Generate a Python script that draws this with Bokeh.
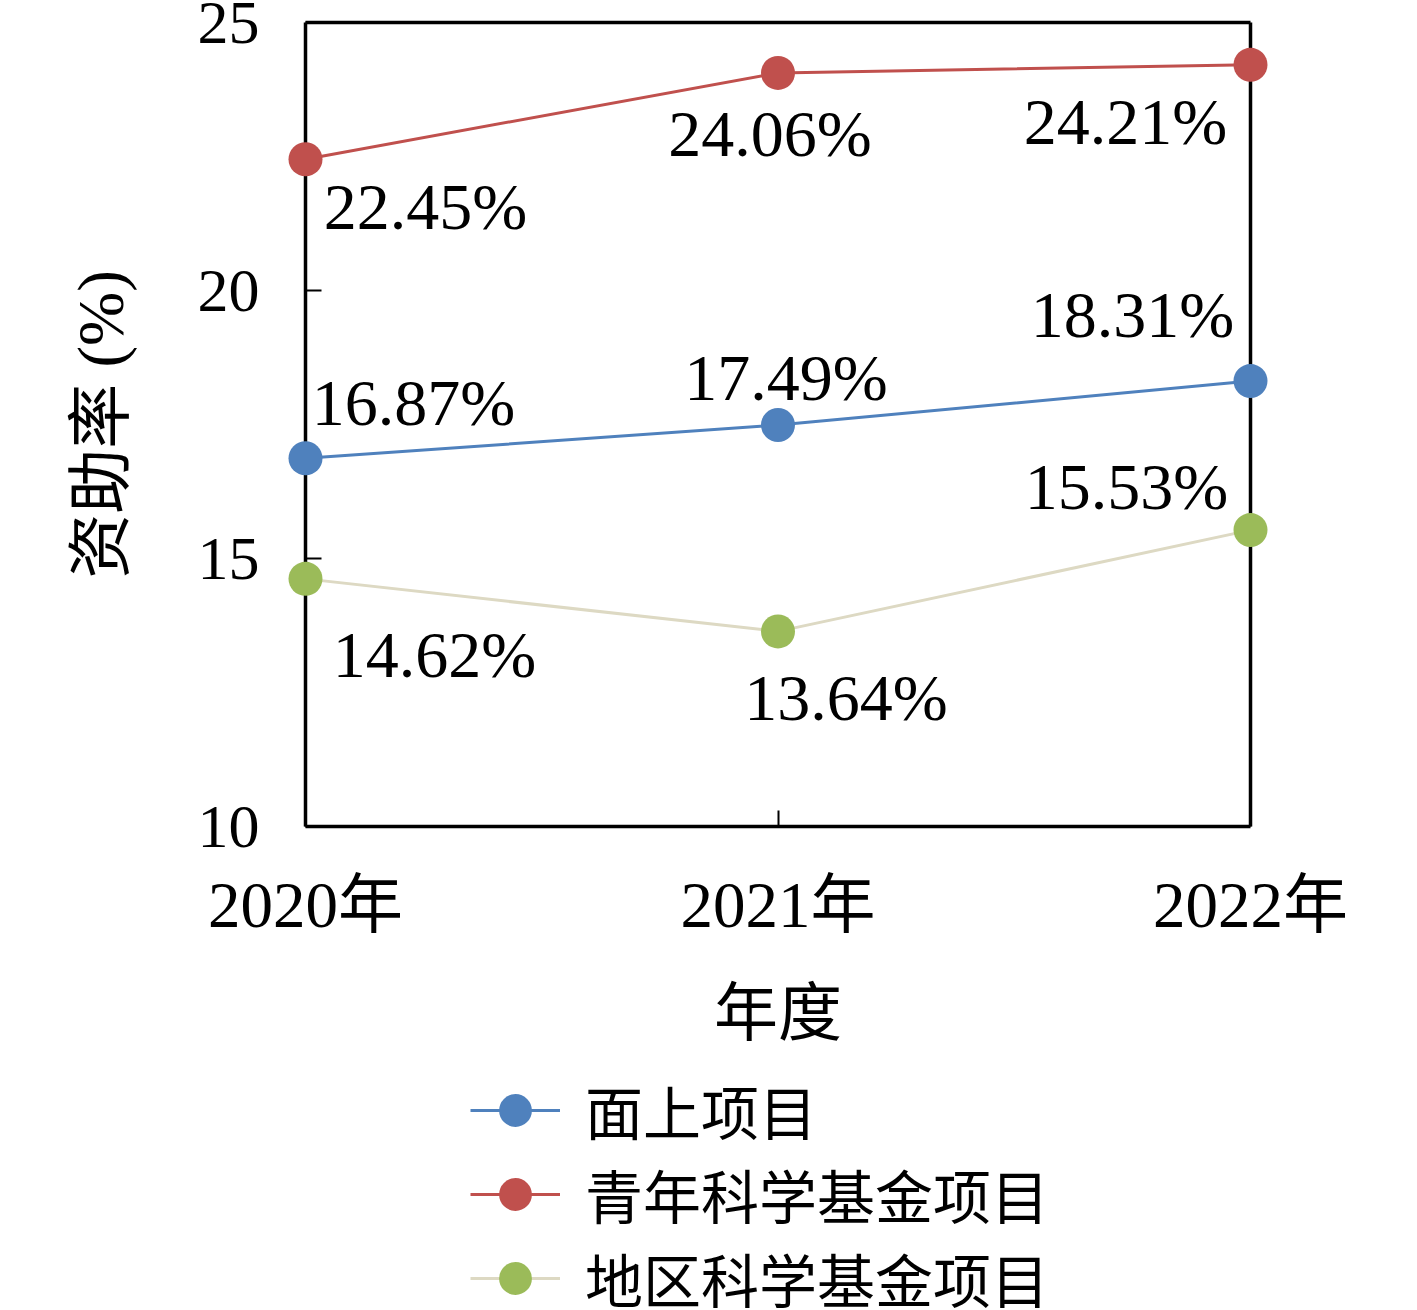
from bokeh.plotting import figure
from bokeh.layouts import column
from bokeh.models import (ColumnDataSource, LabelSet, Legend, LegendItem,
                          LinearAxis, FixedTicker, Range1d)
from bokeh.embed import file_html
from bokeh.resources import INLINE
from bokeh.core.properties import value

# ---- data ----
years = [2020, 2021, 2022]
year_labels = ["2020年", "2021年", "2022年"]
series_names = ["面上项目", "青年科学基金项目", "地区科学基金项目"]
general = [16.87, 17.49, 18.31]
young = [22.45, 24.06, 24.21]
regional = [14.62, 13.64, 15.53]
y_ticks = [10, 15, 20, 25]
y_label = "资助率 (%)"
x_label = "年度"

# ---- styles ----
line_colors = ["#4F81BD", "#C0504D", "#DDD9C3"]
marker_colors = ["#4F81BD", "#C0504D", "#9BBB59"]
label_dx = [[108, 8, -118], [120, -8, -125], [129, 68, -124]]
label_dy = [[56, 48, 67], [-47, -61, -57], [-76, -66, 44]]
FONT = "Liberation Serif, Noto Sans CJK SC"

p = figure(width=1412, height=1068,
           x_range=Range1d(2020, 2022), y_range=Range1d(10, 25),
           output_backend="svg", toolbar_location=None,
           min_border_left=305, min_border_right=162,
           min_border_top=22, min_border_bottom=242)
p.grid.visible = False
p.outline_line_color = None
p.background_fill_color = "white"
p.border_fill_color = "white"

def style_axis(ax):
    ax.axis_line_width = 3.5
    ax.axis_line_color = "black"
    ax.major_tick_line_width = 2
    ax.major_tick_line_color = "black"
    ax.major_tick_in = 16
    ax.major_tick_out = 0
    ax.minor_tick_in = 0
    ax.minor_tick_out = 0
    ax.major_label_text_font = FONT
    ax.major_label_text_color = "black"
    ax.axis_label_text_font = FONT
    ax.axis_label_text_font_style = "normal"
    ax.axis_label_text_color = "black"

xa = p.xaxis[0]
style_axis(xa)
xa.ticker = FixedTicker(ticks=years)
xa.major_label_overrides = dict(zip(years, year_labels))
xa.major_label_text_font_size = "65px"
xa.major_label_standoff = 42
xa.axis_label = x_label
xa.axis_label_text_font_size = "64px"
xa.axis_label_standoff = 34

ya = p.yaxis[0]
style_axis(ya)
ya.ticker = FixedTicker(ticks=y_ticks)
ya.major_label_text_font_size = "62px"
ya.major_label_standoff = 46
ya.axis_label = y_label
ya.axis_label_text_font_size = "65px"
ya.axis_label_standoff = 58

for side in ("right", "above"):
    ax = LinearAxis(ticker=FixedTicker(ticks=[]))
    style_axis(ax)
    ax.major_tick_in = 0
    p.add_layout(ax, side)

# legend lives in a second, axis-less figure below the chart
lg = figure(width=1412, height=242, x_range=Range1d(0, 1), y_range=Range1d(0, 1),
            output_backend="svg", toolbar_location=None,
            min_border_left=0, min_border_right=0,
            min_border_top=0, min_border_bottom=0)
lg.axis.visible = False
lg.grid.visible = False
lg.outline_line_color = None
lg.background_fill_color = "white"
lg.border_fill_color = "white"

series = [general, young, regional]
items = []
for i, vals in enumerate(series):
    src = ColumnDataSource(dict(x=years, y=vals,
                                t=[f"{v:.2f}%" for v in vals],
                                dx=label_dx[i], dy=label_dy[i]))
    p.line("x", "y", source=src, line_color=line_colors[i],
           line_width=3, level="overlay")
    p.scatter("x", "y", source=src, size=34, fill_color=marker_colors[i],
              line_color=None, level="overlay")
    labels = LabelSet(x="x", y="y", text="t", source=src,
                      x_offset="dx", y_offset="dy",
                      text_align="center", text_baseline="middle",
                      text_font=value("Liberation Serif"),
                      text_font_size="66px", text_color="black")
    p.add_layout(labels)
    # same series in the legend figure (outside its visible range)
    ll = lg.line("x", "y", source=src, line_color=line_colors[i], line_width=3)
    ls = lg.scatter("x", "y", source=src, size=34, fill_color=marker_colors[i],
                    line_color=None)
    items.append(LegendItem(label=series_names[i], renderers=[ll, ls]))

legend = Legend(items=items, location=(165, -10), orientation="vertical",
                label_text_font=FONT, label_text_font_size="58px",
                label_text_color="black",
                glyph_width=90, glyph_height=82, spacing=0,
                label_standoff=25, padding=0, margin=0,
                border_line_color=None, background_fill_alpha=0)
lg.add_layout(legend)

layout = column(p, lg, spacing=0)
open("out.html", "w").write(file_html(layout, INLINE))
